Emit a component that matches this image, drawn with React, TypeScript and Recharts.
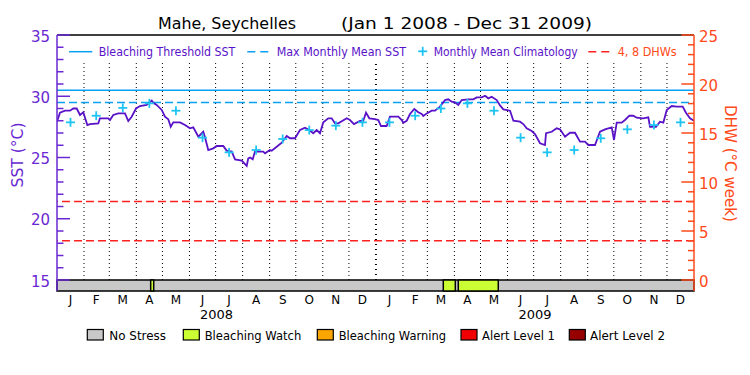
import React from 'react';
import {
  ComposedChart,
  Line,
  Scatter,
  XAxis,
  YAxis,
  ReferenceLine,
  ReferenceArea,
} from 'recharts';

// ---------------- DATA ----------------
// day index from Jan 1 2008 (0) to Dec 31 2009 (731)
const sstDays = [
  0, 3.4, 9.2, 14.9, 18.7, 22.6, 26.4, 30.2, 34.8, 37.9, 47.4, 49.3, 58.9, 60.8, 64.6, 70.3, 78.0, 81.8,
  85.7, 90.7, 95.2, 102.9, 108.7, 110.5, 114.4, 120.2, 123.9, 127.7, 130.5, 133.5, 141.2, 146.9, 152.6,
  156.4, 162.2, 167.9, 169.8, 173.6, 179.4, 183.3, 190.8, 194.7, 200.5, 204.3, 212.0, 217.7, 219.5,
  221.5, 224.6, 227.2, 236.7, 238.7, 244.4, 246.4, 252.1, 257.9, 263.6, 267.4, 273.1, 278.9, 284.6,
  289.5, 294.1, 298.0, 301.8, 305.6, 311.3, 315.2, 319.0, 322.8, 332.5, 336.2, 340.8, 347.7, 351.5,
  354.6, 358.4, 364.9, 368.7, 371.8, 378.3, 382.1, 391.7, 395.6, 397.4, 401.3, 405.1, 410.0, 414.6,
  418.5, 420.3, 424.3, 430.0, 433.8, 439.5, 445.3, 449.0, 452.9, 456.7, 460.5, 464.4, 472.0, 477.7,
  481.6, 487.4, 491.2, 495.0, 498.8, 504.6, 508.4, 512.2, 519.9, 523.7, 531.3, 535.1, 539.0, 544.8,
  548.5, 554.3, 560.0, 561.2, 567.7, 573.4, 577.2, 583.0, 588.7, 594.4, 600.2, 605.9, 609.7, 617.4,
  623.1, 628.9, 636.6, 639.2, 642.3, 648.0, 651.8, 656.8, 661.3, 665.2, 672.8, 678.6, 680.5, 687.4,
  692.0, 695.8, 699.7, 705.4, 711.2, 718.0, 721.8, 726.4, 731,
];
const sstValues = [
  27.92, 28.66, 28.82, 28.82, 29.0, 29.0, 28.47, 28.69, 27.65, 27.73, 27.79, 28.2, 28.2, 28.06, 28.47, 28.6, 28.6, 27.98,
  28.33, 29.0, 29.2, 29.29, 29.64, 29.47, 29.29, 28.88, 28.33, 28.12, 27.51, 27.87, 27.87, 27.65, 27.38,
  27.46, 26.7, 27.1, 26.65, 25.61, 25.75, 25.94, 25.94, 25.56, 25.48, 24.85, 24.74, 24.31, 24.93,
  25.0, 24.85, 25.48, 25.48, 25.34, 25.61, 25.56, 25.88, 26.21, 26.76, 26.57, 26.57, 27.24, 27.43,
  27.24, 26.98, 27.24, 26.98, 27.87, 28.2, 28.2, 27.79, 27.79, 28.2, 28.06, 27.73, 27.98, 28.0,
  28.66, 28.2, 28.14, 28.06, 27.57, 27.57, 28.33, 28.33, 28.06, 27.84, 28.0, 28.55, 28.96, 28.69,
  28.55, 28.39, 28.6, 28.82, 28.82, 29.15, 29.69, 29.75, 29.56, 29.5, 29.29, 29.69, 29.75, 29.75,
  29.91, 29.91, 30.04, 29.83, 29.96, 29.69, 29.25, 28.93, 28.82, 28.0, 27.92, 27.73, 27.38, 27.16,
  26.92, 26.16, 26.02, 26.98, 27.1, 27.38, 27.3, 26.7, 27.02, 27.02, 26.29, 26.29, 26.02, 26.02,
  27.1, 27.3, 27.46, 26.43, 27.84, 27.84, 28.06, 28.41, 28.41, 28.25, 28.2, 28.28, 27.51, 27.51,
  27.92, 27.84, 28.88, 29.2, 29.15, 29.15, 28.66, 28.2, 28.0,
];

const monthMidDays = [
  15.5, 45, 75.5, 106, 136.5, 167, 197.5, 228.5, 259, 289.5, 320, 350.5,
  381.5, 411, 440.5, 471, 501.5, 532, 562.5, 593.5, 624, 654.5, 685, 715.5,
];
const monthLabels = [
  'J', 'F', 'M', 'A', 'M', 'J', 'J', 'A', 'S', 'O', 'N', 'D',
  'J', 'F', 'M', 'A', 'M', 'J', 'J', 'A', 'S', 'O', 'N', 'D',
];
const monthBoundaryDays = [
  31, 60, 91, 121, 152, 182, 213, 244, 274, 305, 335,
  397, 425, 456, 486, 517, 547, 578, 609, 639, 670, 700,
];
const yearBoundaryDays = [366];
const yearMidDays = [183, 548.5];
const yearLabels = ['2008', '2009'];

const climValues = [
  27.87, 28.41, 29.05, 29.42, 28.82, 26.62, 25.42, 25.61, 26.51, 27.24, 27.6, 27.87,
  27.87, 28.41, 29.0, 29.42, 28.82, 26.62, 25.42, 25.61, 26.57, 27.3, 27.65, 27.87,
];

const bleachingThreshold = 30.5;
const maxMonthlyMean = 29.5;
const dhwLevels = [4, 8];

const stressStart = [107.5, 443.3, 460.5];
const stressEnd = [111, 457.1, 506.4];
const stressLevel = ['watch', 'watch', 'watch'];

const sstTicks = [15, 16, 17, 18, 19, 20, 21, 22, 23, 24, 25, 26, 27, 28, 29, 30, 31, 32, 33, 34, 35];
const dhwTicks = [0, 1, 2, 3, 4, 5, 6, 7, 8, 9, 10, 11, 12, 13, 14, 15, 16, 17, 18, 19, 20, 21, 22, 23, 24, 25];

const legendNames = ['No Stress', 'Bleaching Watch', 'Bleaching Warning', 'Alert Level 1', 'Alert Level 2'];
const legendKeys = ['none', 'watch', 'warning', 'alert1', 'alert2'];

// ---------------- STYLE ----------------
const FONT = 'DejaVu Sans';
const PURPLE = '#5a12c8';
const AXIS_PURPLE = '#6a28d2';
const ORANGE = '#ff4a1a';
const RED = '#ff2020';
const BLUE = '#0aa0f5';
const CYAN = '#1ec4f2';
const STRESS_COLORS: Record<string, string> = {
  none: '#c8c8c8',
  watch: '#ccff33',
  warning: '#faa500',
  alert1: '#f00000',
  alert2: '#960000',
};

const SST_MIN = 15 - 11 / 12.25;
const SST_MAX = 35;
const DHW_MIN = -11 / 9.8;
const DHW_MAX = 25;
const LINE_TOP = 32.71;

const sstData = sstDays.map((d, i) => ({ day: d, sst: sstValues[i] }));
const climData = monthMidDays.map((d, i) => ({ day: d, sst: climValues[i] }));

const SstTick = (props: any) => {
  const { x, y, payload } = props;
  const v = payload.value;
  const major = v % 5 === 0;
  return (
    <g>
      <line x1={x} x2={x + (major ? 13 : 6.5)} y1={y} y2={y} stroke={AXIS_PURPLE} strokeWidth={1.5} />
      {major && (
        <text x={x - 7} y={y + 6.7} textAnchor="end" fontSize={15} fontFamily={FONT} fill={AXIS_PURPLE}>
          {v}
        </text>
      )}
    </g>
  );
};

const DhwTick = (props: any) => {
  const { x, y, payload } = props;
  const v = payload.value;
  const major = v % 5 === 0;
  return (
    <g>
      <line x1={x} x2={x - (major ? 12.7 : 6)} y1={y} y2={y} stroke={ORANGE} strokeWidth={1.5} />
      {major && (
        <text x={x + 5} y={y + 6.7} textAnchor="start" fontSize={15} fontFamily={FONT} fill={ORANGE}>
          {v}
        </text>
      )}
    </g>
  );
};

const Cross = (props: any) => {
  const { cx, cy } = props;
  if (cx == null || cy == null) return <g />;
  return (
    <g>
      <line x1={cx - 4.5} x2={cx + 4.5} y1={cy} y2={cy} stroke={CYAN} strokeWidth={1.8} />
      <line x1={cx} x2={cx} y1={cy - 4.5} y2={cy + 4.5} stroke={CYAN} strokeWidth={1.8} />
    </g>
  );
};

const legendBoxX = [87.3, 183.3, 317.3, 461, 569.3];
const legendTextX = [109.3, 204.7, 338.7, 482, 590];
const legendTextW = [56.7, 96.6, 107.3, 73, 75];

export default function App() {
  return (
    <div style={{ position: 'absolute', left: 0, top: 0, width: 750, height: 375, background: '#fff' }}>
      <ComposedChart
        width={750}
        height={375}
        data={sstData}
        margin={{ top: 35, right: 6, bottom: 54, left: 7 }}
      >
        <XAxis
          xAxisId="m"
          dataKey="day"
          type="number"
          domain={[0, 731]}
          ticks={monthMidDays}
          interval={0}
          tickFormatter={(v: number) => monthLabels[monthMidDays.indexOf(v)] ?? ''}
          axisLine={false}
          tickLine={false}
          tickSize={0}
          tickMargin={4}
          height={15}
          tick={{ fill: '#000', fontSize: 12, fontFamily: FONT }}
          allowDataOverflow
        />
        <XAxis
          xAxisId="y"
          dataKey="day"
          type="number"
          domain={[0, 731]}
          ticks={yearMidDays}
          interval={0}
          tickFormatter={(v: number) => yearLabels[yearMidDays.indexOf(v)] ?? ''}
          axisLine={false}
          tickLine={false}
          tickSize={0}
          tickMargin={4}
          height={15}
          tick={{ fill: '#000', fontSize: 13, fontFamily: FONT }}
          allowDataOverflow
        />
        <YAxis
          yAxisId="sst"
          type="number"
          domain={[SST_MIN, SST_MAX]}
          ticks={sstTicks}
          interval={0}
          tick={<SstTick />}
          tickLine={false}
          tickSize={0}
          tickMargin={0}
          axisLine={{ stroke: AXIS_PURPLE, strokeWidth: 1.5 }}
          width={50}
          allowDataOverflow
        />
        <YAxis
          yAxisId="dhw"
          orientation="right"
          type="number"
          domain={[DHW_MIN, DHW_MAX]}
          ticks={dhwTicks}
          interval={0}
          tick={<DhwTick />}
          tickLine={false}
          tickSize={0}
          tickMargin={0}
          axisLine={{ stroke: ORANGE, strokeWidth: 1.5 }}
          width={50}
          allowDataOverflow
        />

        {monthBoundaryDays.map((d) => (
          <ReferenceLine
            key={'m' + d}
            xAxisId="m"
            yAxisId="sst"
            segment={[{ x: d, y: 15 }, { x: d, y: LINE_TOP }]}
            stroke="#000"
            strokeWidth={1}
            strokeDasharray="1 3"
            ifOverflow="visible"
          />
        ))}
        {yearBoundaryDays.map((d) => (
          <ReferenceLine
            key={'y' + d}
            xAxisId="m"
            yAxisId="sst"
            segment={[{ x: d, y: 15 }, { x: d, y: LINE_TOP }]}
            stroke="#000"
            strokeWidth={2}
            strokeDasharray="1 4"
            ifOverflow="visible"
          />
        ))}

        <ReferenceLine xAxisId="m" yAxisId="sst" y={bleachingThreshold} stroke={BLUE} strokeWidth={1.5} />
        <ReferenceLine xAxisId="m" yAxisId="sst" y={maxMonthlyMean} stroke={BLUE} strokeWidth={1.5} strokeDasharray="8 4" />
        {dhwLevels.map((v) => (
          <ReferenceLine key={'d' + v} xAxisId="m" yAxisId="dhw" y={v} stroke={RED} strokeWidth={1.5} strokeDasharray="8 4" />
        ))}
        <ReferenceLine xAxisId="m" yAxisId="sst" y={SST_MAX} stroke="#000" strokeWidth={1.5} ifOverflow="visible" />

        <ReferenceArea
          xAxisId="m"
          yAxisId="sst"
          x1={0}
          x2={731}
          y1={SST_MIN}
          y2={15}
          fill={STRESS_COLORS.none}
          fillOpacity={1}
          stroke="#000"
          strokeWidth={1.5}
          ifOverflow="visible"
        />
        {stressStart.map((s, i) => (
          <ReferenceArea
            key={'s' + i}
            xAxisId="m"
            yAxisId="sst"
            x1={s}
            x2={stressEnd[i]}
            y1={SST_MIN}
            y2={15}
            fill={STRESS_COLORS[stressLevel[i]]}
            fillOpacity={1}
            stroke="#000"
            strokeWidth={1.5}
            ifOverflow="visible"
          />
        ))}

        <Line
          xAxisId="m"
          yAxisId="sst"
          dataKey="sst"
          type="linear"
          stroke={PURPLE}
          strokeWidth={1.8}
          dot={false}
          isAnimationActive={false}
        />
        <Scatter
          xAxisId="m"
          yAxisId="sst"
          data={climData}
          dataKey="sst"
          shape={<Cross />}
          isAnimationActive={false}
        />
      </ComposedChart>

      <svg
        width={750}
        height={375}
        style={{ position: 'absolute', left: 0, top: 0, pointerEvents: 'none' }}
        fontFamily={FONT}
      >
        {/* title */}
        <text x={158} y={29} fontSize={16} fill="#000" textLength={138} lengthAdjust="spacingAndGlyphs">
          Mahe, Seychelles
        </text>
        <text x={341} y={29} fontSize={16} fill="#000" textLength={251} lengthAdjust="spacingAndGlyphs">
          (Jan 1 2008 - Dec 31 2009)
        </text>

        {/* top legend */}
        <line x1={69} x2={92.3} y1={51.7} y2={51.7} stroke={BLUE} strokeWidth={1.5} />
        <text x={98.7} y={55.5} fontSize={12} fill={PURPLE} textLength={136.6} lengthAdjust="spacingAndGlyphs">
          Bleaching Threshold SST
        </text>
        <line x1={247.3} x2={269.3} y1={51.7} y2={51.7} stroke={BLUE} strokeWidth={1.5} strokeDasharray="8 5" />
        <text x={276.7} y={55.5} fontSize={12} fill={PURPLE} textLength={129.3} lengthAdjust="spacingAndGlyphs">
          Max Monthly Mean SST
        </text>
        <line x1={418.2} x2={427.2} y1={51.3} y2={51.3} stroke={CYAN} strokeWidth={1.8} />
        <line x1={422.7} x2={422.7} y1={46.8} y2={55.8} stroke={CYAN} strokeWidth={1.8} />
        <text x={433.7} y={55.5} fontSize={12} fill={PURPLE} textLength={144} lengthAdjust="spacingAndGlyphs">
          Monthly Mean Climatology
        </text>
        <line x1={588.3} x2={612} y1={51.7} y2={51.7} stroke={RED} strokeWidth={1.5} strokeDasharray="8 5" />
        <text x={617.7} y={55.5} fontSize={12} fill={ORANGE} textLength={59} lengthAdjust="spacingAndGlyphs">
          4, 8 DHWs
        </text>

        {/* axis titles */}
        <text
          x={17.5}
          y={155}
          fontSize={16}
          fill={AXIS_PURPLE}
          textAnchor="middle"
          dominantBaseline="central"
          transform="rotate(-90 17.5 155)"
          textLength={65}
          lengthAdjust="spacingAndGlyphs"
        >
          SST (°C)
        </text>
        <text
          x={730}
          y={163.5}
          fontSize={16}
          fill={ORANGE}
          textAnchor="middle"
          dominantBaseline="central"
          transform="rotate(90 730 163.5)"
          textLength={117}
          lengthAdjust="spacingAndGlyphs"
        >
          DHW (°C week)
        </text>

        {/* stress legend */}
        {legendNames.map((n, i) => (
          <g key={n}>
            <rect
              x={legendBoxX[i]}
              y={329.5}
              width={16}
              height={10.5}
              fill={STRESS_COLORS[legendKeys[i]]}
              stroke="#000"
              strokeWidth={1.2}
            />
            <text x={legendTextX[i]} y={340} fontSize={13} fill="#000" textLength={legendTextW[i]} lengthAdjust="spacingAndGlyphs">
              {n}
            </text>
          </g>
        ))}
      </svg>
    </div>
  );
}
